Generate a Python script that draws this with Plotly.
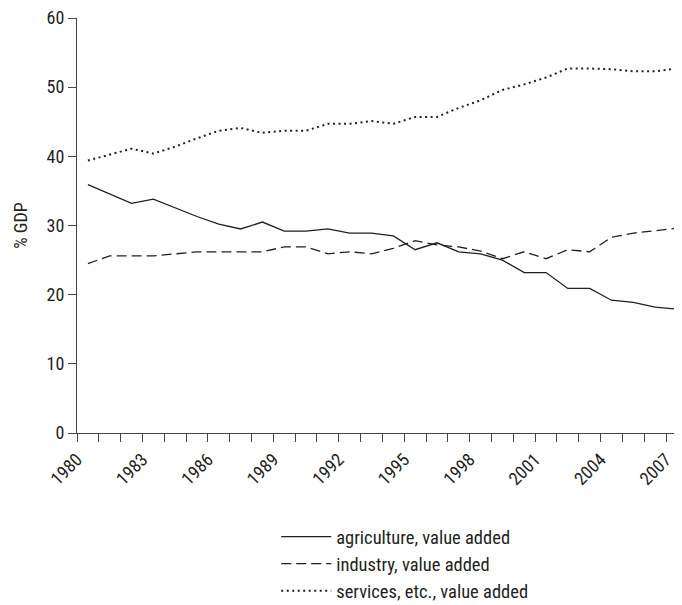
import plotly.graph_objects as go

years = list(range(1980, 2008))

agriculture = [35.9, 34.5, 33.2, 33.8, 32.5, 31.3, 30.2, 29.5, 30.5, 29.2,
               29.2, 29.5, 28.9, 28.9, 28.5, 26.5, 27.5, 26.2, 25.9, 25.0,
               23.2, 23.2, 20.9, 20.9, 19.2, 18.9, 18.2, 17.9]
industry = [24.5, 25.6, 25.6, 25.6, 25.9, 26.2, 26.2, 26.2, 26.2, 26.9,
            26.9, 25.9, 26.2, 25.9, 26.7, 27.8, 27.2, 26.9, 26.3, 25.2,
            26.2, 25.2, 26.5, 26.2, 28.3, 28.9, 29.2, 29.6]
services = [39.4, 40.2, 41.1, 40.4, 41.4, 42.6, 43.7, 44.1, 43.4, 43.7,
            43.7, 44.7, 44.7, 45.1, 44.7, 45.7, 45.7, 47.0, 48.1, 49.6,
            50.4, 51.4, 52.7, 52.7, 52.6, 52.3, 52.3, 52.7]

series_names = ['agriculture, value added', 'industry, value added',
                'services, etc., value added']

FONT = 'Roboto Condensed, DejaVu Sans Condensed, Liberation Sans Narrow, Arial'
INK = '#231f20'
AXIS = '#444444'

# annual values are drawn at mid-year, ticks mark year boundaries
x_mid = [y + 0.5 for y in years]

fig = go.Figure()
fig.add_trace(go.Scatter(x=x_mid, y=agriculture, mode='lines', name=series_names[0],
                         line=dict(color=INK, width=1.3)))
fig.add_trace(go.Scatter(x=x_mid, y=industry, mode='lines', name=series_names[1],
                         line=dict(color=INK, width=1.3, dash='10px,5px')))
fig.add_trace(go.Scatter(x=x_mid, y=services, mode='lines', name=series_names[2],
                         line=dict(color=INK, width=2, dash='2px,3.5px')))

fig.update_layout(
    width=682, height=605,
    margin=dict(l=69, r=0, t=10, b=180, autoexpand=False),
    paper_bgcolor='white', plot_bgcolor='white',
    font=dict(family=FONT, size=18, color=INK),
    showlegend=True,
    legend=dict(x=0.325, xanchor='left', y=-0.205, yanchor='top',
                itemwidth=50, font=dict(size=18.5),
                bgcolor='rgba(0,0,0,0)'),
    xaxis=dict(range=[1980, 2008.1], tickmode='linear', tick0=1980, dtick=3,
               tickangle=-45, ticks='outside', ticklen=8, tickcolor=AXIS,
               showline=True, linecolor=AXIS, linewidth=1.2, showgrid=False,
               zeroline=False, automargin=False, tickfont=dict(size=18),
               ticklabeloverflow='allow',
               minor=dict(dtick=1, tick0=1980, ticks='outside', ticklen=8,
                          tickcolor=AXIS, showgrid=False)),
    yaxis=dict(range=[0, 60], tickmode='linear', tick0=0, dtick=10,
               ticks='outside', ticklen=8, tickcolor=AXIS, tickfont=dict(size=18),
               showline=True, linecolor=AXIS, linewidth=1.2, showgrid=False,
               zeroline=False, automargin=False, ticklabeloverflow='allow',
               title=dict(text='% GDP', standoff=14, font=dict(size=18))),
)

fig.write_html('out.html')
